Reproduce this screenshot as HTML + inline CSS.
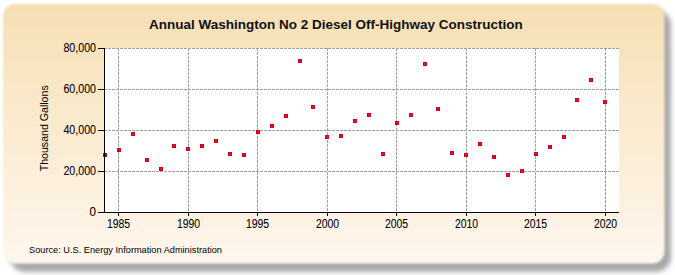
<!DOCTYPE html>
<html><head><meta charset="utf-8"><style>
html,body{margin:0;padding:0;background:#fff;width:675px;height:275px;overflow:hidden;}
svg{display:block;}
</style></head><body>
<svg width="675" height="275" viewBox="0 0 675 275">
<defs>
<linearGradient id="bg" x1="0" y1="0" x2="0" y2="1">
<stop offset="0" stop-color="#F6DFB4"/>
<stop offset="1" stop-color="#FFF7EE"/>
</linearGradient>
<filter id="sh" x="-5%" y="-5%" width="110%" height="115%">
<feGaussianBlur stdDeviation="2.5"/>
</filter>
<filter id="soft" x="-2%" y="-2%" width="104%" height="104%"><feGaussianBlur stdDeviation="1.0"/></filter>
</defs>
<rect x="0" y="0" width="675" height="275" fill="#ffffff"/>
<rect x="10" y="10" width="661" height="262" rx="15" ry="15" fill="#a8a8a8" filter="url(#sh)"/>
<rect x="3" y="4" width="661.5" height="259.5" rx="12" ry="12" fill="url(#bg)" filter="url(#soft)"/>
<rect x="104" y="48" width="515" height="164" fill="#ffffff"/>
<g stroke="#a2a2a2" stroke-width="1" stroke-dasharray="3,1"><line x1="104" y1="48.5" x2="619" y2="48.5"/><line x1="104" y1="89.5" x2="619" y2="89.5"/><line x1="104" y1="130.5" x2="619" y2="130.5"/><line x1="104" y1="171.5" x2="619" y2="171.5"/><line x1="118.5" y1="48" x2="118.5" y2="212"/><line x1="188.5" y1="48" x2="188.5" y2="212"/><line x1="257.5" y1="48" x2="257.5" y2="212"/><line x1="327.5" y1="48" x2="327.5" y2="212"/><line x1="396.5" y1="48" x2="396.5" y2="212"/><line x1="466.5" y1="48" x2="466.5" y2="212"/><line x1="535.5" y1="48" x2="535.5" y2="212"/><line x1="605.5" y1="48" x2="605.5" y2="212"/></g>
<g><rect x="103" y="153" width="4" height="4" fill="#9a1020"/><rect x="117" y="148" width="4" height="4" fill="#CC0018"/><rect x="118" y="149" width="2" height="2" fill="#F20A1E"/><rect x="131" y="132" width="4" height="4" fill="#CC0018"/><rect x="132" y="133" width="2" height="2" fill="#F20A1E"/><rect x="145" y="158" width="4" height="4" fill="#CC0018"/><rect x="146" y="159" width="2" height="2" fill="#F20A1E"/><rect x="159" y="167" width="4" height="4" fill="#CC0018"/><rect x="160" y="168" width="2" height="2" fill="#F20A1E"/><rect x="172" y="144" width="4" height="4" fill="#CC0018"/><rect x="173" y="145" width="2" height="2" fill="#F20A1E"/><rect x="186" y="147" width="4" height="4" fill="#CC0018"/><rect x="187" y="148" width="2" height="2" fill="#F20A1E"/><rect x="200" y="144" width="4" height="4" fill="#CC0018"/><rect x="201" y="145" width="2" height="2" fill="#F20A1E"/><rect x="214" y="139" width="4" height="4" fill="#CC0018"/><rect x="215" y="140" width="2" height="2" fill="#F20A1E"/><rect x="228" y="152" width="4" height="4" fill="#CC0018"/><rect x="229" y="153" width="2" height="2" fill="#F20A1E"/><rect x="242" y="153" width="4" height="4" fill="#CC0018"/><rect x="243" y="154" width="2" height="2" fill="#F20A1E"/><rect x="256" y="130" width="4" height="4" fill="#CC0018"/><rect x="257" y="131" width="2" height="2" fill="#F20A1E"/><rect x="270" y="124" width="4" height="4" fill="#CC0018"/><rect x="271" y="125" width="2" height="2" fill="#F20A1E"/><rect x="284" y="114" width="4" height="4" fill="#CC0018"/><rect x="285" y="115" width="2" height="2" fill="#F20A1E"/><rect x="298" y="59" width="4" height="4" fill="#CC0018"/><rect x="299" y="60" width="2" height="2" fill="#F20A1E"/><rect x="311" y="105" width="4" height="4" fill="#CC0018"/><rect x="312" y="106" width="2" height="2" fill="#F20A1E"/><rect x="325" y="135" width="4" height="4" fill="#CC0018"/><rect x="326" y="136" width="2" height="2" fill="#F20A1E"/><rect x="339" y="134" width="4" height="4" fill="#CC0018"/><rect x="340" y="135" width="2" height="2" fill="#F20A1E"/><rect x="353" y="119" width="4" height="4" fill="#CC0018"/><rect x="354" y="120" width="2" height="2" fill="#F20A1E"/><rect x="367" y="113" width="4" height="4" fill="#CC0018"/><rect x="368" y="114" width="2" height="2" fill="#F20A1E"/><rect x="381" y="152" width="4" height="4" fill="#CC0018"/><rect x="382" y="153" width="2" height="2" fill="#F20A1E"/><rect x="395" y="121" width="4" height="4" fill="#CC0018"/><rect x="396" y="122" width="2" height="2" fill="#F20A1E"/><rect x="409" y="113" width="4" height="4" fill="#CC0018"/><rect x="410" y="114" width="2" height="2" fill="#F20A1E"/><rect x="423" y="62" width="4" height="4" fill="#CC0018"/><rect x="424" y="63" width="2" height="2" fill="#F20A1E"/><rect x="436" y="107" width="4" height="4" fill="#CC0018"/><rect x="437" y="108" width="2" height="2" fill="#F20A1E"/><rect x="450" y="151" width="4" height="4" fill="#CC0018"/><rect x="451" y="152" width="2" height="2" fill="#F20A1E"/><rect x="464" y="153" width="4" height="4" fill="#CC0018"/><rect x="465" y="154" width="2" height="2" fill="#F20A1E"/><rect x="478" y="142" width="4" height="4" fill="#CC0018"/><rect x="479" y="143" width="2" height="2" fill="#F20A1E"/><rect x="492" y="155" width="4" height="4" fill="#CC0018"/><rect x="493" y="156" width="2" height="2" fill="#F20A1E"/><rect x="506" y="173" width="4" height="4" fill="#CC0018"/><rect x="507" y="174" width="2" height="2" fill="#F20A1E"/><rect x="520" y="169" width="4" height="4" fill="#CC0018"/><rect x="521" y="170" width="2" height="2" fill="#F20A1E"/><rect x="534" y="152" width="4" height="4" fill="#CC0018"/><rect x="535" y="153" width="2" height="2" fill="#F20A1E"/><rect x="548" y="145" width="4" height="4" fill="#CC0018"/><rect x="549" y="146" width="2" height="2" fill="#F20A1E"/><rect x="562" y="135" width="4" height="4" fill="#CC0018"/><rect x="563" y="136" width="2" height="2" fill="#F20A1E"/><rect x="575" y="98" width="4" height="4" fill="#CC0018"/><rect x="576" y="99" width="2" height="2" fill="#F20A1E"/><rect x="589" y="78" width="4" height="4" fill="#CC0018"/><rect x="590" y="79" width="2" height="2" fill="#F20A1E"/><rect x="603" y="100" width="4" height="4" fill="#CC0018"/><rect x="604" y="101" width="2" height="2" fill="#F20A1E"/></g>
<g stroke="#000" stroke-width="1"><line x1="104.5" y1="48" x2="104.5" y2="213"/><line x1="104" y1="212.5" x2="619" y2="212.5"/><line x1="98" y1="48.5" x2="104" y2="48.5"/><line x1="98" y1="89.5" x2="104" y2="89.5"/><line x1="98" y1="130.5" x2="104" y2="130.5"/><line x1="98" y1="171.5" x2="104" y2="171.5"/><line x1="98" y1="212.5" x2="104" y2="212.5"/><line x1="118.5" y1="212" x2="118.5" y2="216"/><line x1="188.5" y1="212" x2="188.5" y2="216"/><line x1="257.5" y1="212" x2="257.5" y2="216"/><line x1="327.5" y1="212" x2="327.5" y2="216"/><line x1="396.5" y1="212" x2="396.5" y2="216"/><line x1="466.5" y1="212" x2="466.5" y2="216"/><line x1="535.5" y1="212" x2="535.5" y2="216"/><line x1="605.5" y1="212" x2="605.5" y2="216"/></g>
<text x="149" y="29" font-family="&quot;Liberation Sans&quot;, sans-serif" font-size="13.5" font-weight="bold" fill="#111">Annual Washington No 2 Diesel Off-Highway Construction</text>
<text x="96" y="51.8" font-family="&quot;Liberation Sans&quot;, sans-serif" font-size="12" fill="#000" stroke="#000" stroke-width="0.08" text-anchor="end" textLength="32.60" lengthAdjust="spacingAndGlyphs">80,000</text>
<text x="96" y="92.8" font-family="&quot;Liberation Sans&quot;, sans-serif" font-size="12" fill="#000" stroke="#000" stroke-width="0.08" text-anchor="end" textLength="32.60" lengthAdjust="spacingAndGlyphs">60,000</text>
<text x="96" y="133.8" font-family="&quot;Liberation Sans&quot;, sans-serif" font-size="12" fill="#000" stroke="#000" stroke-width="0.08" text-anchor="end" textLength="32.60" lengthAdjust="spacingAndGlyphs">40,000</text>
<text x="96" y="174.8" font-family="&quot;Liberation Sans&quot;, sans-serif" font-size="12" fill="#000" stroke="#000" stroke-width="0.08" text-anchor="end" textLength="32.60" lengthAdjust="spacingAndGlyphs">20,000</text>
<text x="96" y="215.8" font-family="&quot;Liberation Sans&quot;, sans-serif" font-size="12" fill="#000" stroke="#000" stroke-width="0.08" text-anchor="end" transform="translate(96,0) scale(0.97,1) translate(-96,0)">0</text>
<text x="118.5" y="228.4" font-family="&quot;Liberation Sans&quot;, sans-serif" font-size="12" fill="#000" stroke="#000" stroke-width="0.08" text-anchor="middle" textLength="23.2" lengthAdjust="spacingAndGlyphs">1985</text>
<text x="188.5" y="228.4" font-family="&quot;Liberation Sans&quot;, sans-serif" font-size="12" fill="#000" stroke="#000" stroke-width="0.08" text-anchor="middle" textLength="23.2" lengthAdjust="spacingAndGlyphs">1990</text>
<text x="257.5" y="228.4" font-family="&quot;Liberation Sans&quot;, sans-serif" font-size="12" fill="#000" stroke="#000" stroke-width="0.08" text-anchor="middle" textLength="23.2" lengthAdjust="spacingAndGlyphs">1995</text>
<text x="327.5" y="228.4" font-family="&quot;Liberation Sans&quot;, sans-serif" font-size="12" fill="#000" stroke="#000" stroke-width="0.08" text-anchor="middle" textLength="23.2" lengthAdjust="spacingAndGlyphs">2000</text>
<text x="396.5" y="228.4" font-family="&quot;Liberation Sans&quot;, sans-serif" font-size="12" fill="#000" stroke="#000" stroke-width="0.08" text-anchor="middle" textLength="23.2" lengthAdjust="spacingAndGlyphs">2005</text>
<text x="466.5" y="228.4" font-family="&quot;Liberation Sans&quot;, sans-serif" font-size="12" fill="#000" stroke="#000" stroke-width="0.08" text-anchor="middle" textLength="23.2" lengthAdjust="spacingAndGlyphs">2010</text>
<text x="535.5" y="228.4" font-family="&quot;Liberation Sans&quot;, sans-serif" font-size="12" fill="#000" stroke="#000" stroke-width="0.08" text-anchor="middle" textLength="23.2" lengthAdjust="spacingAndGlyphs">2015</text>
<text x="605.5" y="228.4" font-family="&quot;Liberation Sans&quot;, sans-serif" font-size="12" fill="#000" stroke="#000" stroke-width="0.08" text-anchor="middle" textLength="23.2" lengthAdjust="spacingAndGlyphs">2020</text>
<text transform="translate(47.6,171.3) rotate(-90)" x="0" y="0" font-family="&quot;Liberation Sans&quot;, sans-serif" font-size="11" fill="#000" textLength="86" lengthAdjust="spacingAndGlyphs">Thousand Gallons</text>
<text x="29" y="253.2" font-family="&quot;Liberation Sans&quot;, sans-serif" font-size="9.6" fill="#000" textLength="193" lengthAdjust="spacingAndGlyphs">Source: U.S. Energy Information Administration</text>
</svg>
</body></html>
